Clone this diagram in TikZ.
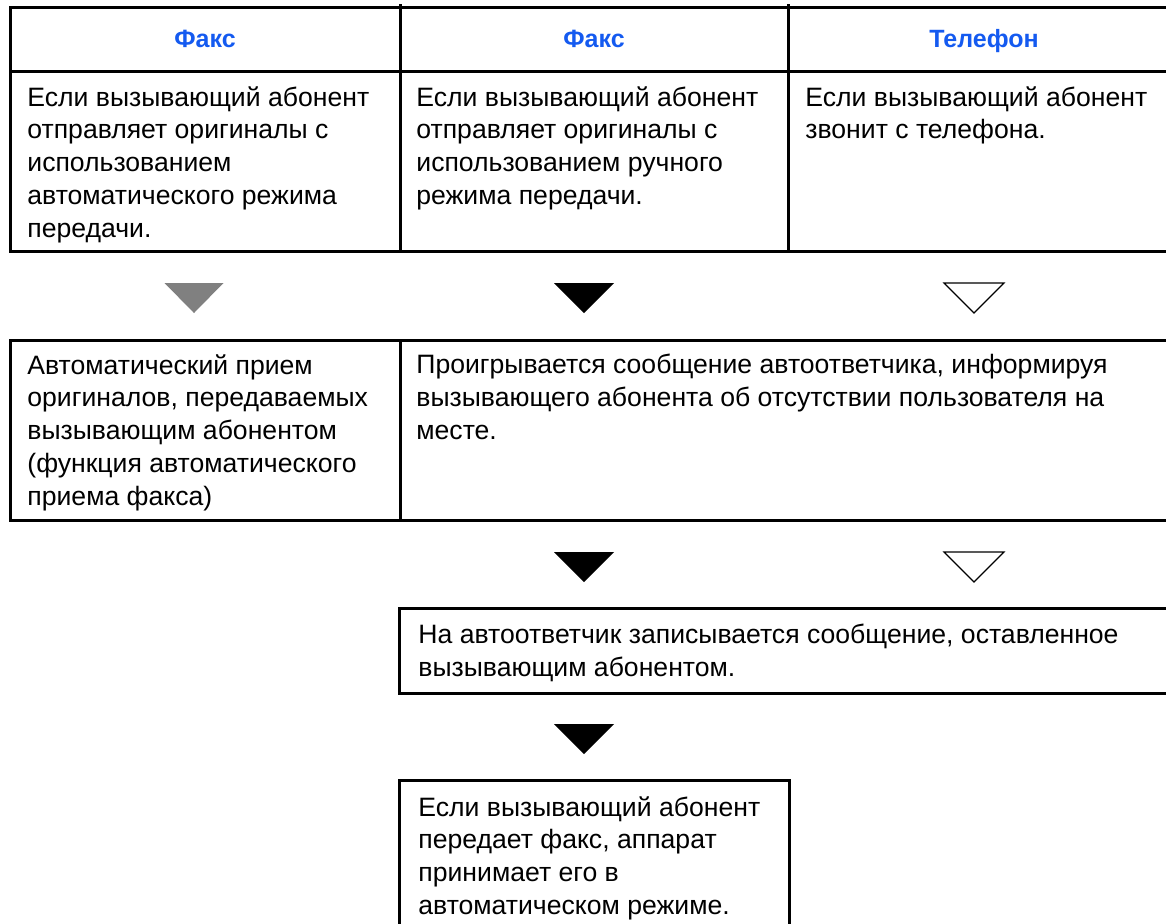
\documentclass[tikz,border=0pt]{standalone}
\usepackage{fontspec}
\setmainfont{Liberation Sans}
\usepackage{xcolor}
\definecolor{headblue}{RGB}{20,90,240}

\begin{document}
\begin{tikzpicture}[x=0.5pt,y=-0.5pt,
  cell/.style={line width=1.5pt},
  head/.style={anchor=base,inner sep=0pt,text=headblue,font=\bfseries\fontsize{12.5}{15}\selectfont},
  body/.style={anchor=north west,inner sep=0pt,align=left,font=\fontsize{13.3}{16.4}\selectfont},
  hollow/.style={line width=0.6pt}]
  \useasboundingbox (0,0) rectangle (1166,923);

  % top table with the three caller types
  \draw[cell] (10,7) rectangle (1180,251);
  \draw[cell] (10,71) -- (1180,71);
  \draw[cell] (400,4) -- (400,251);
  \draw[cell] (788,4) -- (788,251);
  \node[head] (hfax1) at (205,47) {Факс};
  \node[head] (hfax2) at (594,47) {Факс};
  \node[head] (htel) at (984,47) {Телефон};
  \node[body] (caseauto) at (27,86) {Если вызывающий абонент\\отправляет оригиналы с\\использованием\\автоматического режима\\передачи.};
  \node[body] (casemanual) at (416,86) {Если вызывающий абонент\\отправляет оригиналы с\\использованием ручного\\режима передачи.};
  \node[body] (casephone) at (805,86) {Если вызывающий абонент\\звонит с телефона.};

  % arrows down
  \coordinate (ta) at (194,283);
  \coordinate (tb) at (584,283);
  \coordinate (tc) at (974,283);
  \coordinate (td) at (584,552);
  \coordinate (te) at (974,552);
  \coordinate (tf) at (584,724);
  \fill[gray] (ta) ++(-29.5,0) -- ++(59,0) -- ++(-29.5,30) -- cycle;
  \foreach \t in {tb,td,tf}
    \fill (\t) ++(-30,0) -- ++(60,0) -- ++(-30,30) -- cycle;
  \foreach \t in {tc,te}
    \draw[hollow] (\t) ++(-30,0) -- ++(60,0) -- ++(-30,30) -- cycle;

  % second row
  \draw[cell] (10,340) rectangle (1180,520);
  \draw[cell] (400,340) -- (400,522);
  \node[body] (autorecv) at (27,354) {Автоматический прием\\оригиналов, передаваемых\\вызывающим абонентом\\(функция автоматического\\приема факса)};
  \node[body] (greeting) at (416,354) {Проигрывается сообщение автоответчика, информируя\\вызывающего абонента об отсутствии пользователя на\\месте.};

  % answering machine
  \draw[cell] (399,608) rectangle (1180,693);
  \node[body] (record) at (418,624) {На автоответчик записывается сообщение, оставленное\\вызывающим абонентом.};

  % fax after message
  \draw[cell] (399,780) rectangle (789,960);
  \node[body] (faxrecv) at (418,796) {Если вызывающий абонент\\передает факс, аппарат\\принимает его в\\автоматическом режиме.};
\end{tikzpicture}
\end{document}
